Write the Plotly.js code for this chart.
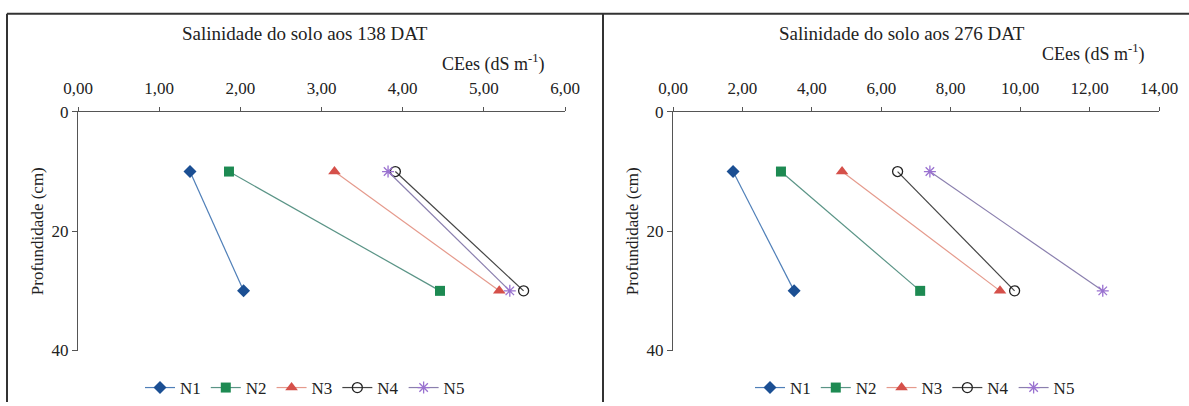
<!DOCTYPE html>
<html>
<head>
<meta charset="utf-8">
<script src="https://cdn.plot.ly/plotly-3.0.1.min.js"></script>
<style>html,body{margin:0;padding:0;background:#fff;}#chart{width:1189px;height:406px;}</style>
</head>
<body>
<div id="chart"></div>
<script>
// Depths (cm)
var depth = [10, 30];
// CEes (dS m-1) at 138 DAT
var n1_138 = [1.38, 2.04];
var n2_138 = [1.86, 4.46];
var n3_138 = [3.16, 5.19];
var n4_138 = [3.91, 5.49];
var n5_138 = [3.82, 5.32];
// CEes (dS m-1) at 276 DAT
var n1_276 = [1.73, 3.49];
var n2_276 = [3.11, 7.12];
var n3_276 = [4.87, 9.42];
var n4_276 = [6.47, 9.84];
var n5_276 = [7.40, 12.38];
var seriesNames = ['N1', 'N2', 'N3', 'N4', 'N5'];
var panelTitles = ['Salinidade do solo aos 138 DAT', 'Salinidade do solo aos 276 DAT'];
var xTicks138 = [0, 1, 2, 3, 4, 5, 6];
var xTicks276 = [0, 2, 4, 6, 8, 10, 12, 14];
var yTicks = [0, 20, 40];

var styles = [
  {sym: 'diamond', size: 10, mcol: '#1b4f93', lcol: '#4f7fb8', lw: 1.2},
  {sym: 'square', size: 10, mcol: '#1d8a52', lcol: '#5a9486', lw: 1.2},
  {sym: 'triangle-up', size: 11, mcol: '#d5504a', lcol: '#e59a8c', lw: 1.2},
  {sym: 'circle-open', size: 10, mcol: '#222222', lcol: '#444444', lw: 1.2},
  {sym: 'asterisk-open', size: 10, mcol: '#9a72d0', lcol: '#8a7fae', lw: 1.2}
];

var FONT = '"Liberation Serif", "Times New Roman", serif';
var data138 = [n1_138, n2_138, n3_138, n4_138, n5_138];
var data276 = [n1_276, n2_276, n3_276, n4_276, n5_276];
var traces = [];
function addPanel(arr, xa, ya, lg) {
  for (var i = 0; i < arr.length; i++) {
    var s = styles[i];
    traces.push({
      x: arr[i], y: depth, xaxis: xa, yaxis: ya, legend: lg,
      name: seriesNames[i], type: 'scatter', mode: 'lines+markers',
      line: {color: s.lcol, width: s.lw},
      marker: {symbol: s.sym, size: s.size, color: s.mcol, line: {color: s.mcol, width: (s.sym.indexOf('open') >= 0 ? 1.3 : 0)}},
      cliponaxis: false
    });
  }
}
addPanel(data138, 'x', 'y', 'legend');
addPanel(data276, 'x2', 'y2', 'legend2');

function fmt(v) { return v.toFixed(2).replace('.', ','); }

var W = 1189, H = 406;
var yDom = [1 - 354 / H, 1 - 113 / H];
var axBase = {
  showgrid: false, zeroline: false, showline: true, linecolor: '#555', linewidth: 1,
  ticks: 'outside', ticklen: 4, tickcolor: '#555',
  tickfont: {family: FONT, size: 17, color: '#222'}
};
var layout = {
  width: W, height: H,
  margin: {l: 0, r: 0, t: 0, b: 0},
  paper_bgcolor: '#fff', plot_bgcolor: '#fff',
  font: {family: FONT, color: '#222'},
  xaxis: Object.assign({}, axBase, {domain: [78 / W, 565 / W], range: [0, 6], side: 'top', anchor: 'y',
    tickvals: xTicks138, ticktext: xTicks138.map(fmt), ticklabelstandoff: 6}),
  yaxis: Object.assign({}, axBase, {domain: yDom, range: [40, 0], anchor: 'x', ticklen: 5,
    tickvals: yTicks, ticktext: yTicks.map(String),
    title: {text: 'Profundidade (cm)', font: {family: FONT, size: 17, color: '#222'}, standoff: 3}}),
  xaxis2: Object.assign({}, axBase, {domain: [673 / W, 1159 / W], range: [0, 14], side: 'top', anchor: 'y2',
    tickvals: xTicks276, ticktext: xTicks276.map(fmt), ticklabelstandoff: 6}),
  yaxis2: Object.assign({}, axBase, {domain: yDom, range: [40, 0], anchor: 'x2', ticklen: 5,
    tickvals: yTicks, ticktext: yTicks.map(String),
    title: {text: 'Profundidade (cm)', font: {family: FONT, size: 17, color: '#222'}, standoff: 3}}),
  legend: {orientation: 'h', x: 305 / W, xanchor: 'center', y: 1 - 392 / H, yanchor: 'middle',
    font: {family: FONT, size: 17, color: '#222'}, bgcolor: 'rgba(0,0,0,0)', itemwidth: 30, tracegroupgap: 0},
  legend2: {orientation: 'h', x: 915 / W, xanchor: 'center', y: 1 - 392 / H, yanchor: 'middle',
    font: {family: FONT, size: 17, color: '#222'}, bgcolor: 'rgba(0,0,0,0)', itemwidth: 30, tracegroupgap: 0},
  showlegend: true,
  annotations: [
    {text: panelTitles[0], xref: 'paper', yref: 'paper', x: 305 / W, y: 1 - 34 / H, xanchor: 'center', yanchor: 'middle', showarrow: false, font: {family: FONT, size: 19, color: '#222'}},
    {text: panelTitles[1], xref: 'paper', yref: 'paper', x: 902 / W, y: 1 - 34 / H, xanchor: 'center', yanchor: 'middle', showarrow: false, font: {family: FONT, size: 19, color: '#222'}},
    {text: 'CEes (dS m<sup>-1</sup>)', xref: 'paper', yref: 'paper', x: 493 / W, y: 1 - 64 / H, xanchor: 'center', yanchor: 'middle', showarrow: false, font: {family: FONT, size: 18, color: '#222'}},
    {text: 'CEes (dS m<sup>-1</sup>)', xref: 'paper', yref: 'paper', x: 1093 / W, y: 1 - 54 / H, xanchor: 'center', yanchor: 'middle', showarrow: false, font: {family: FONT, size: 18, color: '#222'}}
  ],
  shapes: [
    {type: 'line', xref: 'paper', yref: 'paper', x0: 7 / W, x1: 1, y0: 1 - 14 / H, y1: 1 - 14 / H, line: {color: '#333', width: 2}},
    {type: 'line', xref: 'paper', yref: 'paper', x0: 7 / W, x1: 7 / W, y0: 0, y1: 1 - 14 / H, line: {color: '#333', width: 2}},
    {type: 'line', xref: 'paper', yref: 'paper', x0: 603 / W, x1: 603 / W, y0: 0, y1: 1 - 14 / H, line: {color: '#333', width: 2}}
  ]
};
Plotly.newPlot('chart', traces, layout, {displayModeBar: false, staticPlot: true});
</script>
</body>
</html>
